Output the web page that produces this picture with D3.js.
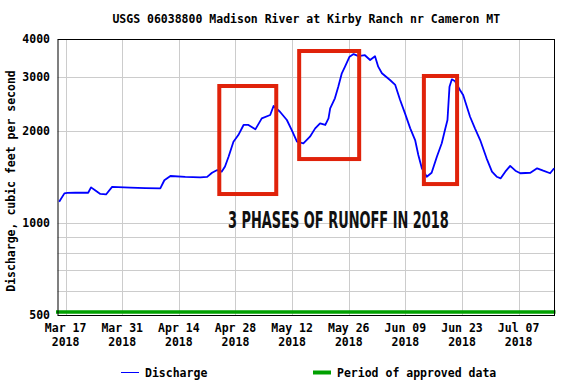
<!DOCTYPE html>
<html><head><meta charset="utf-8">
<script src="https://cdn.jsdelivr.net/npm/d3@7"></script>
<style>body{margin:0;background:#fff}svg{display:block}</style>
</head><body><svg id="c" width="576" height="384"></svg>
<script>
const title = "USGS 06038800 Madison River at Kirby Ranch nr Cameron MT";
const yLabel = "Discharge, cubic feet per second";
const annotation = "3 PHASES OF RUNOFF IN 2018";
const times = ["2018-03-15T10:00","2018-03-16T17:00","2018-03-17T10:00","2018-03-19T10:00","2018-03-22T14:00","2018-03-23T07:00","2018-03-24T07:00","2018-03-25T14:00","2018-03-27T00:00","2018-03-28T12:00","2018-04-02T00:00","2018-04-05T17:00","2018-04-09T10:00","2018-04-10T10:00","2018-04-11T22:00","2018-04-15T14:00","2018-04-19T07:00","2018-04-21T00:00","2018-04-22T05:00","2018-04-23T12:00","2018-04-24T14:00","2018-04-25T10:00","2018-04-26T07:00","2018-04-27T12:00","2018-04-28T17:00","2018-04-30T00:00","2018-05-01T05:00","2018-05-02T22:00","2018-05-04T12:00","2018-05-06T14:00","2018-05-07T10:00","2018-05-09T00:00","2018-05-10T17:00","2018-05-11T22:00","2018-05-13T05:00","2018-05-14T19:00","2018-05-16T10:00","2018-05-17T17:00","2018-05-18T22:00","2018-05-20T05:00","2018-05-21T00:00","2018-05-21T10:00","2018-05-22T14:00","2018-05-23T10:00","2018-05-24T07:00","2018-05-25T02:00","2018-05-26T05:00","2018-05-27T05:00","2018-05-28T10:00","2018-05-30T00:00","2018-05-31T07:00","2018-06-01T12:00","2018-06-02T07:00","2018-06-03T05:00","2018-06-05T05:00","2018-06-06T12:00","2018-06-07T17:00","2018-06-08T22:00","2018-06-10T05:00","2018-06-11T10:00","2018-06-12T05:00","2018-06-13T02:00","2018-06-14T07:00","2018-06-15T12:00","2018-06-16T19:00","2018-06-18T00:00","2018-06-18T19:00","2018-06-19T10:00","2018-06-19T22:00","2018-06-20T12:00","2018-06-21T07:00","2018-06-22T12:00","2018-06-23T07:00","2018-06-25T00:00","2018-06-26T05:00","2018-06-27T12:00","2018-06-29T02:00","2018-06-30T10:00","2018-07-01T14:00","2018-07-02T14:00","2018-07-03T17:00","2018-07-04T22:00","2018-07-06T05:00","2018-07-07T10:00","2018-07-09T22:00","2018-07-11T14:00","2018-07-13T02:00","2018-07-14T19:00","2018-07-15T19:00"];
const discharge = [1174,1250,1255,1258,1256,1308,1280,1245,1240,1313,1305,1300,1298,1380,1425,1415,1410,1415,1460,1490,1472,1530,1648,1845,1940,2093,2093,2025,2200,2256,2414,2313,2173,2014,1845,1823,1916,2040,2119,2093,2200,2372,2559,2793,3089,3247,3500,3571,3514,3540,3415,3514,3247,3089,2937,2829,2525,2285,2040,1868,1669,1510,1417,1460,1648,1823,2014,2173,2793,2952,2910,2725,2623,2227,2040,1868,1628,1472,1417,1400,1472,1537,1483,1455,1460,1510,1483,1455,1510];
const xTickDates = ["2018-03-17","2018-03-31","2018-04-14","2018-04-28","2018-05-12","2018-05-26","2018-06-09","2018-06-23","2018-07-07"];
const xTickLabels = ["Mar 17","Mar 31","Apr 14","Apr 28","May 12","May 26","Jun 09","Jun 23","Jul 07"];
const yTicks = [500,1000,2000,3000,4000];
const yMinorGrid = [600,700,800,900];
const boxStarts = ["2018-04-24T00:00","2018-05-13T18:00","2018-06-13T14:00"];
const boxEnds   = ["2018-05-08T02:00","2018-05-28T14:00","2018-06-21T19:00"];
const boxHigh = [2807,3654,3027];
const boxLow  = [1244,1619,1341];
const legendLabels = ["Discharge","Period of approved data"];

const parse = d3.utcParse("%Y-%m-%dT%H:%M");
const parseDay = d3.utcParse("%Y-%m-%d");
const data = times.map((t,i)=>({t:parse(t), v:discharge[i]}));

const svg = d3.select("#c");
const L=57.5, R=555, T=39, B=315;
const x = d3.scaleUtc().domain([parseDay("2018-03-15"), parseDay("2018-07-16")]).range([L,R]);
const y = d3.scaleLog().domain([500,4000]).range([B,T]);
const mono = "'DejaVu Sans Mono', 'Liberation Mono', monospace";
const blue = "#0000ff", green = "#00a000", red = "#e0220a", grid = "#cccccc";

// gridlines
const g = svg.append("g");
g.selectAll("line.h").data(yTicks.concat(yMinorGrid)).join("line")
  .attr("x1",L).attr("x2",R).attr("y1",d=>Math.round(y(d))+0.5).attr("y2",d=>Math.round(y(d))+0.5)
  .attr("stroke",grid).attr("stroke-width",1);
g.selectAll("line.v").data(xTickDates).join("line")
  .attr("x1",d=>Math.round(x(parseDay(d)))+0.5).attr("x2",d=>Math.round(x(parseDay(d)))+0.5)
  .attr("y1",T).attr("y2",B).attr("stroke",grid).attr("stroke-width",1);

// approved data period
svg.append("line").attr("x1",x.range()[0]-1.5).attr("x2",x.range()[1]+0.5)
  .attr("y1",B-3).attr("y2",B-3).attr("stroke",green).attr("stroke-width",3.5);

// frame
svg.append("rect").attr("x",L+0.5).attr("y",T+0.5).attr("width",R-L-1).attr("height",B-T)
  .attr("fill","none").attr("stroke","#000").attr("stroke-width",1);

// discharge line
const line = d3.line().x(d=>x(d.t)).y(d=>y(d.v)).curve(d3.curveLinear);
svg.append("path").datum(data).attr("d",line).attr("fill","none")
  .attr("stroke",blue).attr("stroke-width",1.8).attr("stroke-linejoin","round");

// red boxes
svg.selectAll("rect.box").data(boxStarts).join("rect")
  .attr("x",(d,i)=>x(parse(d)))
  .attr("y",(d,i)=>y(boxHigh[i]))
  .attr("width",(d,i)=>x(parse(boxEnds[i]))-x(parse(d)))
  .attr("height",(d,i)=>y(boxLow[i])-y(boxHigh[i]))
  .attr("fill","none").attr("stroke",red).attr("stroke-width",4);

// annotation (condensed by horizontal scaling to match the reference width)
const ann = svg.append("text").attr("x",0).attr("y",0)
  .attr("font-family","'Liberation Sans Narrow','DejaVu Sans Condensed','Roboto',sans-serif")
  .attr("font-weight","bold").attr("font-size",23)
  .attr("fill","#111").text(annotation);
const natW = ann.node().getComputedTextLength();
ann.attr("transform",`translate(228,228) scale(${221/natW},1)`);

// title
svg.append("text").attr("x",(L+R)/2).attr("y",23).attr("text-anchor","middle")
  .attr("font-family",mono).attr("font-weight","bold").attr("font-size",11.5)
  .attr("fill","#000").text(title);

// y tick labels
svg.selectAll("text.yt").data(yTicks).join("text")
  .attr("x",50).attr("y",d=>y(d)+4).attr("text-anchor","end")
  .attr("font-family",mono).attr("font-weight","bold").attr("font-size",11.5).text(d=>d);

// x tick labels
const xl = svg.selectAll("g.xt").data(xTickDates).join("g")
  .attr("transform",d=>`translate(${x(parseDay(d))},0)`);
xl.append("text").attr("y",332).attr("text-anchor","middle")
  .attr("font-family",mono).attr("font-weight","bold").attr("font-size",11.5)
  .text((d,i)=>xTickLabels[i]);
xl.append("text").attr("y",346).attr("text-anchor","middle")
  .attr("font-family",mono).attr("font-weight","bold").attr("font-size",11.5)
  .text(d=>d3.utcFormat("%Y")(parseDay(d)));

// y axis label
svg.append("text").attr("transform",`translate(15,${(T+B)/2+4}) rotate(-90)`)
  .attr("text-anchor","middle").attr("font-family",mono).attr("font-weight","bold")
  .attr("font-size",11.5).text(yLabel);

// legend
svg.append("line").attr("x1",121).attr("x2",139).attr("y1",372.5).attr("y2",372.5)
  .attr("stroke",blue).attr("stroke-width",1);
svg.append("text").attr("x",145).attr("y",377).attr("font-family",mono).attr("font-weight","bold")
  .attr("font-size",11.5).text(legendLabels[0]);
svg.append("line").attr("x1",313).attr("x2",331).attr("y1",372.5).attr("y2",372.5)
  .attr("stroke",green).attr("stroke-width",4);
svg.append("text").attr("x",337).attr("y",377).attr("font-family",mono).attr("font-weight","bold")
  .attr("font-size",11.5).text(legendLabels[1]);
</script></body></html>
